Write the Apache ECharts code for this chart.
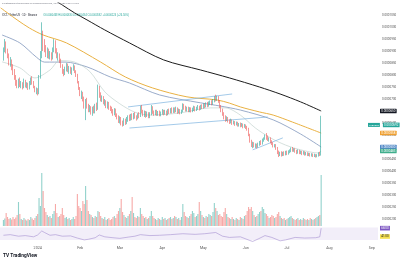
<!DOCTYPE html>
<html><head><meta charset="utf-8">
<script src="https://cdn.jsdelivr.net/npm/echarts@6/dist/echarts.min.js"></script>
<style>html,body{margin:0;padding:0;background:#fff}#c{width:400px;height:263px}</style>
</head><body><div id="c"></div>
<script>
// ---- axis domain ----
const AXIS_START = '2023-12-05';
const AXIS_DAYS = 276;
const FIRST_CANDLE = '2023-12-07';
const PRICE_UNIT = 1e-7;           // prices below are in units of 0.0000001 USDT
const MONTH_LABELS = ['2024','Feb','Mar','Apr','May','Jun','Jul','Aug','Sep','Oct','Nov','Dec'];

// ---- daily candles (from 2023-12-07) ----
const open = [870,905,930,900,880,850,860,830,815,790,770,
750,775,760,765,750,770,755,760,745,765,780,770,750,735,740,
725,790,880,950,
935,910,890,900,880,885,870,900,935,905,880,885,860,840,815,
808,825,840,820,830,812,825,835,815,
800,770,745,720,725,
700,680,690,670,
655,665,645,660,648,670,
660,745,
720,700,705,685,690,670,680,665,660,650,
640,655,635,625,610,620,600,595,612,600,615,625,
615,630,622,635,625,620,635,628,660,648,
635,645,630,640,628,638,665,
645,640,650,638,645,635,642,650,640,648,638,650,
645,655,648,658,650,660,645,652,645,650,675,665,
655,662,652,660,650,658,665,655,662,668,
660,670,665,675,670,680,672,682,688,680,
692,705,700,708,
690,670,655,640,625,615,
620,610,605,612,600,605,595,600,592,
596,590,594,585,590,582,
575,550,525,510,
515,505,510,
500,512,520,515,528,
535,545,538,530,
535,522,515,505,508,
495,480,470,475,
468,475,470,478,472,480,
485,492,486,490,482,
478,484,476,480,472,478,470,
474,468,472,465,470,464,468,462,466,472,468];
const close = [905,930,900,880,850,860,830,815,790,770,750,
775,760,765,750,770,755,760,745,765,780,770,750,735,740,725,
790,880,950,935,
910,890,900,880,885,870,900,935,905,880,885,860,840,815,808,
825,840,820,830,812,825,835,815,800,
770,745,720,725,700,
680,690,670,655,
665,645,660,648,670,660,
745,720,
700,705,685,690,670,680,665,660,650,640,
655,635,625,610,620,600,595,612,600,615,625,615,
630,622,635,625,620,635,628,660,648,635,
645,630,640,628,638,665,645,
640,650,638,645,635,642,650,640,648,638,650,645,
655,648,658,650,660,645,652,645,650,675,665,655,
662,652,660,650,658,665,655,662,668,660,
670,665,675,670,680,672,682,688,680,692,
705,700,708,690,
670,655,640,625,615,620,
610,605,612,600,605,595,600,592,596,
590,594,585,590,582,575,
550,525,510,515,
505,510,500,
512,520,515,528,535,
545,538,530,535,
522,515,505,508,495,
480,470,475,468,
475,470,478,472,480,485,
492,486,490,482,478,
484,476,480,472,478,470,474,
468,472,465,470,464,468,462,466,472,468,592];
const low = [860,895,890,870,840,835,820,800,780,755,745,
745,750,745,740,745,748,745,738,740,758,760,745,728,720,715,
720,785,870,900,
895,875,870,868,865,860,865,895,890,870,860,850,830,805,795,
800,815,812,805,805,800,818,808,792,
765,738,712,700,690,
660,612,660,645,
645,635,630,640,640,650,
655,705,
690,688,678,672,662,660,655,650,640,630,
632,625,615,600,598,590,585,588,592,595,605,608,
610,612,615,618,610,615,620,625,640,628,
625,622,625,620,620,632,638,
630,632,630,630,628,628,635,632,635,630,632,638,
640,640,642,642,645,638,640,636,638,645,655,648,
648,645,645,644,645,650,648,650,655,652,
655,658,660,662,665,666,668,675,674,676,
686,690,692,684,
662,645,630,615,605,608,
602,596,598,592,594,588,590,585,585,
582,584,578,580,575,568,
545,518,500,495,
498,496,494,
497,505,508,510,522,
530,530,525,522,
515,508,498,498,488,
470,458,462,460,
462,463,465,466,468,474,
478,480,480,476,470,
472,470,470,466,468,464,465,
462,462,460,460,458,458,456,457,460,462,464];
const high = [915,950,940,910,890,875,865,845,825,800,780,
785,790,775,770,785,780,770,768,775,790,795,775,755,748,745,
800,900,1020,985,
950,925,915,910,900,895,915,950,945,912,895,890,868,845,825,
835,850,848,838,835,832,845,840,820,
805,775,750,735,730,
710,700,705,680,
675,670,668,672,680,685,
760,755,
728,715,712,700,695,690,688,672,668,658,
662,660,640,632,628,625,610,620,618,625,632,635,
638,640,642,645,632,640,645,672,675,655,
652,650,648,645,645,675,670,
652,655,655,650,652,648,658,655,655,652,658,660,
662,665,665,665,668,665,660,658,656,682,680,672,
668,668,666,665,664,672,670,668,675,672,
676,678,682,682,686,688,690,694,695,700,
712,718,714,712,
695,675,660,645,632,628,
625,615,618,615,610,608,606,605,600,
602,600,598,596,594,588,
580,555,530,522,
520,515,514,
518,525,528,535,540,
552,558,548,540,
540,528,520,512,512,
500,485,480,482,
480,482,484,485,486,490,
498,500,495,495,488,
490,488,485,484,483,482,479,
478,476,475,474,473,472,470,470,478,480,630];
// volume (millions)
const volume = [60,75,130,90,70,80,65,90,70,85,110,
240,120,70,60,80,65,55,70,60,90,75,60,80,100,120,
280,200,530,350,
180,140,110,90,100,80,120,150,220,130,90,100,120,180,110,
80,90,70,80,60,70,90,70,100,
320,200,180,150,250,
220,400,260,150,
120,110,90,80,100,90,
150,140,
100,80,70,90,60,70,80,60,70,90,
100,80,120,150,180,270,140,110,90,80,100,120,
150,290,130,90,80,100,90,180,120,100,
80,90,70,80,100,150,100,
80,70,60,80,70,60,90,70,80,60,70,80,
90,70,80,100,90,70,80,60,90,220,140,100,
90,80,100,120,150,130,90,100,120,240,
150,110,90,80,100,90,120,110,100,140,
230,180,150,110,
120,100,90,140,180,120,
90,80,70,90,70,60,80,70,60,
90,80,70,100,110,150,
190,170,190,150,
110,90,100,
120,140,150,190,170,
130,120,100,80,
90,110,100,80,90,
120,140,100,80,
70,80,60,70,80,90,
100,80,70,60,70,
80,60,70,60,80,70,60,
70,60,80,70,60,70,80,90,100,110,510];

// ---- moving averages ----
const ma200 = [['2024-01-14',1110],['2024-01-19',1092],['2024-01-28',1059],['2024-02-06',1030],['2024-02-19',988],['2024-03-08',934],['2024-04-02',863],['2024-04-29',821],['2024-05-20',788],['2024-06-11',750],['2024-06-26',721],['2024-07-11',688],['2024-07-26',650]];
const ma100 = [['2023-12-05',1080],['2023-12-17',1030],['2023-12-26',996],['2024-01-05',967],['2024-01-22',934],['2024-02-16',854],['2024-03-05',792],['2024-03-25',746],['2024-04-19',709],['2024-05-11',696],['2024-05-20',683],['2024-05-28',667],['2024-06-11',646],['2024-06-21',633],['2024-07-05',604],['2024-07-26',558]];
const ma50 = [['2023-12-06',967],['2023-12-19',934],['2023-12-31',875],['2024-01-06',854],['2024-01-21',854],['2024-02-06',834],['2024-02-23',792],['2024-03-08',767],['2024-03-30',717],['2024-04-29',684],['2024-05-13',671],['2024-05-28',654],['2024-06-21',613],['2024-07-11',554],['2024-07-26',500]];
const ma20 = [['2023-12-06',855],['2023-12-19',830],['2023-12-30',788],['2024-01-10',821],['2024-01-17',860],['2024-01-28',854],['2024-02-08',815],['2024-02-19',730],['2024-03-01',680],['2024-03-12',645],['2024-03-23',633],['2024-04-14',642],['2024-05-06',663],['2024-05-17',663],['2024-05-28',633],['2024-06-08',579],['2024-06-19',538],['2024-06-30',508],['2024-07-11',488],['2024-07-24',475],['2024-07-26',483]];
// ---- drawn trend lines ----
const channelUpper = [['2024-03-07',667],['2024-05-22',721]];
const channelLower = [['2024-03-08',579],['2024-06-17',625]];
const wedgeLine = [['2024-06-06',488],['2024-06-28',538]];
// ---- RSI ----
const rsi = [['2023-12-07',45],['2023-12-12',47],['2023-12-18',42],['2023-12-23',44],['2023-12-29',40],['2024-01-01',46],['2024-01-04',59],['2024-01-06',54],['2024-01-10',45],['2024-01-14',47],['2024-01-19',42],['2024-01-25',43],['2024-01-30',36],['2024-02-04',30],['2024-02-07',32],['2024-02-12',37],['2024-02-15',46],['2024-02-19',40],['2024-02-25',37],['2024-03-01',35],['2024-03-07',39],['2024-03-12',42],['2024-03-16',47],['2024-03-23',44],['2024-03-30',45],['2024-04-07',47],['2024-04-16',50],['2024-04-25',48],['2024-05-02',50],['2024-05-10',54],['2024-05-15',42],['2024-05-20',38],['2024-05-28',40],['2024-06-04',28],['2024-06-06',25],['2024-06-10',33],['2024-06-15',44],['2024-06-20',38],['2024-06-26',27],['2024-06-30',30],['2024-07-07',38],['2024-07-14',36],['2024-07-22',37],['2024-07-25',40],['2024-07-26',68]];
const RSI_BAND = [30, 70];
const RSI_MA_LAST = 41;

const HEADER_1 = 'CryptoAnalyst published on TradingView.com, Jul 27, 2024 09:12 UTC';
const SYMBOL = 'XYZ / TetherUS · 1D · Binance';
const TAG = 'XYZUSDT';

// ---- build ----
const dates = [];
const t0 = Date.parse(AXIS_START + 'T00:00:00Z');
for (let i = 0; i < AXIS_DAYS; i++) dates.push(new Date(t0 + i * 864e5).toISOString().slice(0, 10));
const s0 = dates.indexOf(FIRST_CANDLE);
const candleData = dates.map((d, i) => {
  const k = i - s0;
  return (k >= 0 && k < open.length) ? [open[k], close[k], low[k], high[k]] : ['-', '-', '-', '-'];
});
const volData = dates.map((d, i) => {
  const k = i - s0;
  if (k < 0 || k >= volume.length) return '-';
  const up = close[k] >= open[k];
  return { value: volume[k], itemStyle: { color: up ? 'rgba(38,166,154,0.5)' : 'rgba(239,83,80,0.5)' } };
});
const fmtP = v => (v * PRICE_UNIT).toFixed(7);
const last = a => a[a.length - 1];
const lastClose = last(close), lastOpen = last(open);

function tagLine(value, bg, fg) {
  return {
    silent: true, symbol: 'none', animation: false,
    lineStyle: { color: 'rgba(0,0,0,0)', width: 1 },
    data: [{ yAxis: value }],
    label: { show: true, position: 'end', distance: 2, formatter: fmtP(value),
      color: fg, backgroundColor: bg, padding: [0.8, 1.2], fontSize: 3, borderRadius: 0.6 }
  };
}

const chg = lastClose - lastOpen;
const option = {
  animation: false,
  textStyle: { fontFamily: 'Roboto' },
  grid: [
    { left: 0, right: 22, top: 3.1, height: 227.8 },
    { left: 0, right: 22, top: 100, height: 126 },
    { left: 0, right: 22, top: 226, height: 17 }
  ],
  xAxis: [0, 1, 2].map(g => ({
    type: 'category', data: dates, gridIndex: g,
    axisLine: { show: false }, axisTick: { show: false }, splitLine: { show: false },
    axisLabel: g === 2 ? {
      show: true, fontSize: 3.6, color: '#555', margin: 3,
      interval: (i, v) => v.slice(8) === '01',
      formatter: v => { const m = +v.slice(5, 7); return m === 1 ? v.slice(0, 4) : MONTH_LABELS[m - 1]; }
    } : { show: false }
  })),
  yAxis: [
    { type: 'value', gridIndex: 0, position: 'right', min: 150, max: 1100, interval: 50,
      axisLine: { show: false }, axisTick: { show: false }, splitLine: { show: false },
      axisLabel: { fontSize: 3, color: '#555', margin: 4, formatter: v => (v < 200 || v > 1050) ? '' : fmtP(v) } },
    { type: 'value', gridIndex: 1, min: 0, max: 1260, show: false },
    { type: 'value', gridIndex: 2, min: 20, max: 75, show: false }
  ],
  graphic: [
    { type: 'text', left: 2, top: 2, style: { text: HEADER_1, fontSize: 2.5, fill: '#787b86', fontFamily: 'Roboto' } },
    { type: 'text', left: 2, top: 9, style: {
      text: '{a|' + SYMBOL + '}  {g|O' + fmtP(lastOpen) + ' H' + fmtP(last(high)) + ' L' + fmtP(last(low)) + ' C' + fmtP(lastClose) + ' +' + fmtP(chg) + ' (+' + (chg / lastOpen * 100).toFixed(2) + '%)}',
      fontFamily: 'Roboto',
      rich: { a: { fontSize: 2.6, fill: '#131722', color: '#131722' }, g: { fontSize: 2.6, fill: '#26a69a', color: '#26a69a' } } } },
    { type: 'text', left: 3, top: 253.5, style: { text: 'TV TradingView', fontSize: 4.8, fontWeight: 'bold', fill: '#131722', fontFamily: 'Roboto' } }
  ],
  series: [
    { type: 'line', name: 'MA200', data: ma200, xAxisIndex: 0, yAxisIndex: 0, smooth: 0.3, showSymbol: false,
      lineStyle: { color: '#1c1c1c', width: 1 }, z: 3, markLine: tagLine(last(ma200)[1], '#131722', '#fff') },
    { type: 'line', name: 'MA100', data: ma100, xAxisIndex: 0, yAxisIndex: 0, smooth: 0.3, showSymbol: false,
      lineStyle: { color: '#e9b143', width: 1 }, z: 3, markLine: tagLine(last(ma100)[1], '#f0a030', '#fff') },
    { type: 'line', name: 'MA50', data: ma50, xAxisIndex: 0, yAxisIndex: 0, smooth: 0.3, showSymbol: false,
      lineStyle: { color: '#8ea3c4', width: 0.9 }, z: 3, markLine: tagLine(last(ma50)[1], '#4f86c6', '#fff') },
    { type: 'line', name: 'MA20', data: ma20, xAxisIndex: 0, yAxisIndex: 0, smooth: 0.3, showSymbol: false,
      lineStyle: { color: '#b9cbc6', width: 0.6 }, z: 3, markLine: tagLine(last(ma20)[1], '#3fae8c', '#fff') },
    { type: 'line', data: channelUpper, xAxisIndex: 0, yAxisIndex: 0, showSymbol: false, lineStyle: { color: '#7db3e0', width: 0.7 }, z: 3 },
    { type: 'line', data: channelLower, xAxisIndex: 0, yAxisIndex: 0, showSymbol: false, lineStyle: { color: '#7db3e0', width: 0.7 }, z: 3 },
    { type: 'line', data: wedgeLine, xAxisIndex: 0, yAxisIndex: 0, showSymbol: false, lineStyle: { color: '#7db3e0', width: 0.7 }, z: 3 },
    { type: 'candlestick', data: candleData, xAxisIndex: 0, yAxisIndex: 0, barWidth: '60%', z: 4,
      itemStyle: { color: '#26a69a', color0: '#ef5350', borderColor: '#26a69a', borderColor0: '#ef5350', borderWidth: 0.6 },
      markLine: {
        silent: true, symbol: 'none', animation: false,
        lineStyle: { color: 'rgba(0,0,0,0)', width: 1 },
        data: [{ yAxis: lastClose }],
        label: {
          show: true, position: 'end', distance: -10,
          formatter: '{n|' + TAG + '}{s| }{p|' + fmtP(lastClose) + '}',
          rich: {
            n: { fontSize: 2.4, color: '#fff', backgroundColor: '#26a69a', padding: [1, 0.8] },
            s: { width: 3, fontSize: 3 },
            p: { fontSize: 3, color: '#fff', backgroundColor: '#26a69a', padding: [0.8, 1.2] }
          }
        }
      } },
    { type: 'bar', data: volData, xAxisIndex: 1, yAxisIndex: 1, barWidth: '80%', z: 1 },
    { type: 'line', data: rsi, xAxisIndex: 2, yAxisIndex: 2, showSymbol: false, clip: false,
      lineStyle: { color: '#a48fd0', width: 0.6 },
      markArea: { silent: true, itemStyle: { color: 'rgba(126,87,194,0.10)' },
        data: [[{ yAxis: RSI_BAND[0] }, { yAxis: RSI_BAND[1] }]] },
      markLine: {
        silent: true, symbol: 'none', animation: false, lineStyle: { color: 'rgba(0,0,0,0)', width: 1 },
        data: [
          { yAxis: last(rsi)[1], label: { show: true, position: 'end', distance: 2, formatter: last(rsi)[1].toFixed(2), color: '#fff', backgroundColor: '#7e57c2', padding: [0.8, 1.2], fontSize: 3 } },
          { yAxis: RSI_MA_LAST, label: { show: true, position: 'end', distance: 2, formatter: RSI_MA_LAST.toFixed(2), color: '#131722', backgroundColor: '#f5e050', padding: [0.8, 1.2], fontSize: 3 } }
        ]
      } }
  ]
};
const chart = echarts.init(document.getElementById('c'), null, { renderer: 'canvas' });
chart.setOption(option);
</script></body></html>
